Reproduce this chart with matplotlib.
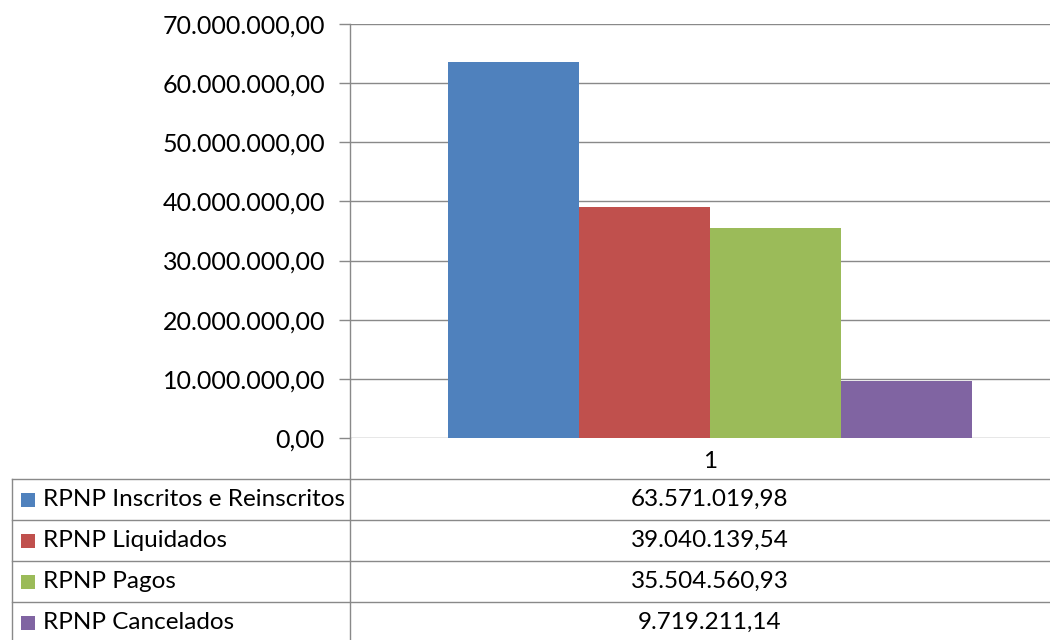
import matplotlib
matplotlib.use("Agg")
import matplotlib.pyplot as plt
from matplotlib.lines import Line2D
from matplotlib.patches import Rectangle
from matplotlib.ticker import FuncFormatter
from matplotlib.transforms import Affine2D

categories = ["1"]
series_names = ["RPNP Inscritos e Reinscritos", "RPNP Liquidados", "RPNP Pagos", "RPNP Cancelados"]
series_values = [63571019.98, 39040139.54, 35504560.93, 9719211.14]
series_colors = ["#4F81BD", "#C0504D", "#9BBB59", "#8064A2"]
y_ticks = [0, 10e6, 20e6, 30e6, 40e6, 50e6, 60e6, 70e6]

W, H = 1050, 640
FONT = ["Lato", "DejaVu Sans"]
FS_TICK = 18
FS_TAB = 17.5
GRID = "#898989"

def br(v):
    s = f"{v:,.2f}"
    return s.replace(",", "X").replace(".", ",").replace("X", ".")

fig = plt.figure(figsize=(W / 100, H / 100), dpi=100)
fig.patch.set_facecolor("white")

# pixel transform (origin top-left)
px = Affine2D().scale(1.0 / W, -1.0 / H).translate(0, 1) + fig.transFigure

ax_l, ax_r, ax_t, ax_b = 350, 1070, 24, 438
ax = fig.add_axes([ax_l / W, 1 - ax_b / H, (ax_r - ax_l) / W, (ax_b - ax_t) / H])
ax.set_xlim(-0.5, 0.5)
ax.set_ylim(0, 70e6)
n = len(series_values)
gap = 1.5
w = 1.0 / (n + gap)
for i, (name, v, c) in enumerate(zip(series_names, series_values, series_colors)):
    ax.bar((i - (n - 1) / 2) * w, v, width=w, color=c, zorder=3, label=name)

ax.set_yticks(y_ticks)
ax.yaxis.set_major_formatter(FuncFormatter(lambda v, p: br(v)))
ax.grid(axis="y", color=GRID, linewidth=1.0, zorder=1)
ax.set_xticks([])
for s in ["top", "right", "bottom"]:
    ax.spines[s].set_visible(False)
ax.spines["left"].set_color(GRID)
ax.spines["left"].set_linewidth(1.0)
ax.tick_params(axis="y", length=8, color=GRID, width=1.0, pad=10, labelsize=FS_TICK, labelcolor="black")
for lab in ax.get_yticklabels():
    lab.set_family(FONT)

# category label
cat_x = (ax_l + ax_r) / 2
fig.text(cat_x / W, 1 - 462 / H, categories[0], ha="center", va="center", fontsize=FS_TAB, family=FONT)

# data table
rows_y = [479, 520, 561, 602, 643]
table_left = 12
fig.add_artist(Line2D([ax_l, ax_l], [ax_b, H], transform=px, color=GRID, lw=1.0))
fig.add_artist(Line2D([table_left, table_left], [rows_y[0], H], transform=px, color=GRID, lw=1.0))
for y in rows_y[:-1]:
    fig.add_artist(Line2D([table_left, W], [y, y], transform=px, color=GRID, lw=1.0))
for i, (name, v, c) in enumerate(zip(series_names, series_values, series_colors)):
    yc = (rows_y[i] + rows_y[i + 1]) / 2
    fig.add_artist(Rectangle((21, yc - 7), 14, 14, transform=px, facecolor=c, edgecolor="none"))
    fig.text(43 / W, 1 - yc / H, name, ha="left", va="center", fontsize=FS_TAB, family=FONT)
    fig.text(cat_x / W, 1 - yc / H, br(v), ha="center", va="center", fontsize=FS_TAB, family=FONT)

fig.savefig("out.png", dpi=100, facecolor="white")
